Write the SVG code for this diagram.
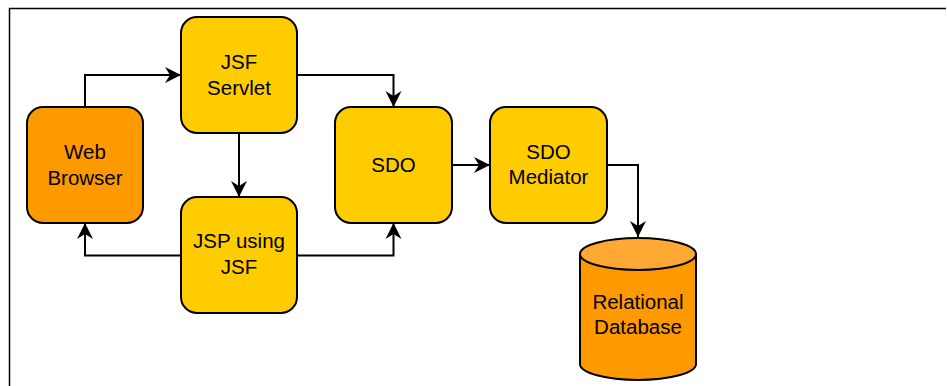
<svg xmlns="http://www.w3.org/2000/svg" width="947" height="386" viewBox="0 0 947 386">
<style>
.box{fill:#FFCC00;stroke:#000;stroke-width:2}
.orange{fill:#FF9900;stroke:#000;stroke-width:2}
.t{font-family:"Liberation Sans",Arial,sans-serif;font-size:20.5px;fill:#000;text-anchor:middle}
.c{fill:none;stroke:#000;stroke-width:2;marker-end:url(#arr)}
</style>
<defs>
<marker id="arr" markerUnits="userSpaceOnUse" markerWidth="18" markerHeight="18" viewBox="0 0 18 18" refX="17" refY="9" orient="auto">
<path d="M1,1 L17,9 L1,17 L6,9 z" fill="#000"/>
</marker>
</defs>
<rect width="947" height="386" fill="#fff"/>
<path d="M9.5,386 V8.5 H946" fill="none" stroke="#000" stroke-width="1.5"/>
<g id="connectors">
<path class="c" d="M85,107 V75 H181"/>
<path class="c" d="M297,75 H393.5 V107"/>
<path class="c" d="M239,133 V197"/>
<path class="c" d="M181,255.5 H85 V223"/>
<path class="c" d="M297,255.5 H393.5 V223"/>
<path class="c" d="M452,165 H490"/>
<path class="c" d="M607,165 H638 V237"/>
</g>
<g id="web-browser">
<rect class="orange" x="27" y="107" width="116" height="116" rx="16"/>
<text class="t" x="85" y="159">Web</text>
<text class="t" x="85" y="185">Browser</text>
</g>
<g id="jsf-servlet">
<rect class="box" x="181" y="17" width="116" height="116" rx="16"/>
<text class="t" x="239" y="69">JSF</text>
<text class="t" x="239" y="95">Servlet</text>
</g>
<g id="jsp-using-jsf">
<rect class="box" x="181" y="197" width="116" height="116" rx="16"/>
<text class="t" x="239" y="248">JSP using</text>
<text class="t" x="239" y="274">JSF</text>
</g>
<g id="sdo">
<rect class="box" x="335" y="107" width="117" height="116" rx="16"/>
<text class="t" x="393.5" y="172">SDO</text>
</g>
<g id="sdo-mediator">
<rect class="box" x="490" y="107" width="117" height="116" rx="16"/>
<text class="t" x="548.5" y="159">SDO</text>
<text class="t" x="548.5" y="184">Mediator</text>
</g>
<g id="relational-database">
<path class="orange" d="M580,254 V364 A58,16 0 0 0 696,364 V254"/>
<ellipse cx="638" cy="254" rx="58" ry="16" fill="#FFA833" stroke="#000" stroke-width="2"/>
<text class="t" x="638" y="309">Relational</text>
<text class="t" x="638" y="334">Database</text>
</g>
</svg>
